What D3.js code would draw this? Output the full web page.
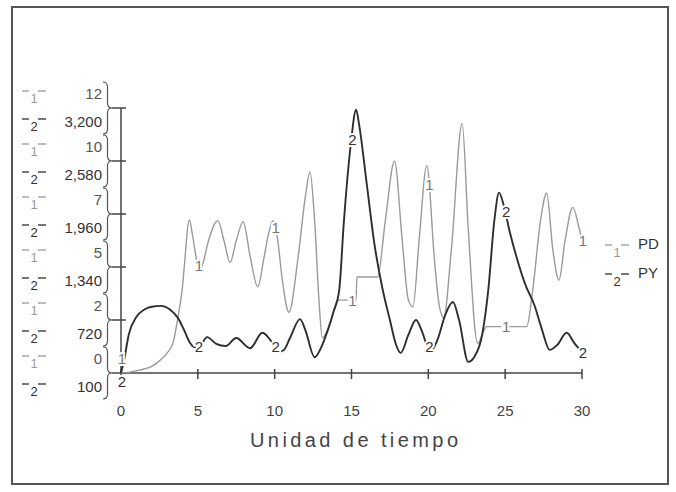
<!DOCTYPE html>
<html><head><meta charset="utf-8">
<script src="https://cdn.jsdelivr.net/npm/d3@7"></script>
<style>
html,body{margin:0;padding:0;background:#fff;}
svg{display:block;}
text{font-family:"Liberation Sans",Arial,sans-serif;}
</style></head>
<body>
<svg id="chart" width="676" height="492"></svg>
<script>
// ---- data ----
const pdTime  = [0,0.5,1,1.5,2,2.5,3,3.4,3.7,4.0,4.2,4.32,4.45,4.65,4.95,5.1,5.3,5.7,6.3,6.7,7.1,7.5,7.95,8.4,8.9,9.3,9.6,9.9,10.2,10.5,10.93,11.5,12.0,12.3,12.6,12.9,13.1,13.6,14.1,15.3,15.35,16.7,17.2,17.8,18.3,18.7,19.0,19.4,19.9,20.4,20.7,21.0,21.5,22.2,22.6,23.2,23.8,26.4,26.8,27.3,27.7,28.1,28.5,28.9,29.4,29.8,30];
const pdValue = [0,0.03,0.1,0.18,0.3,0.55,0.9,1.4,2.5,3.9,5.5,6.5,6.93,6.25,5.0,4.6,4.9,6.0,6.9,6.0,5.0,6.0,6.85,5.3,3.9,5.2,6.3,6.9,6.0,4.2,2.75,5.1,8.0,9.1,6.9,3.1,1.6,2.2,3.3,3.3,4.35,4.35,6.9,9.6,6.0,3.3,3.0,6.0,9.4,5.1,3.1,2.5,5.6,11.3,6.5,1.35,2.1,2.1,3.8,6.9,8.15,5.6,4.2,6.0,7.5,6.6,6.0];
const pyTime  = [0,0.2,0.5,1.0,1.5,2.0,2.6,3.2,3.7,4.1,4.5,4.8,5.2,5.6,6.2,6.8,7.5,8.4,9.2,9.8,10.2,10.6,11.0,11.65,12.0,12.6,13.1,13.5,13.8,14.2,14.5,14.95,15.3,15.5,16.0,16.5,17.0,17.5,17.9,18.2,18.7,19.2,19.6,19.9,20.2,20.6,21.1,21.6,22.0,22.6,23.0,23.5,23.9,24.3,24.6,24.9,25.3,25.8,26.3,26.9,27.4,27.9,28.4,29.0,29.5,30];
const pyValue = [100,250,545,755,840,875,885,840,745,605,450,400,430,520,440,415,510,390,570,465,345,370,510,730,600,285,430,625,800,1070,1860,2770,3180,3000,2300,1600,1100,720,430,335,545,720,580,430,370,490,780,930,720,230,290,545,1070,1890,2210,2065,1750,1420,1140,895,605,370,430,570,450,345];

const xTicks = [0,5,10,15,20,25,30];
const pdTickValues = [0,2.4,4.8,7.2,9.6,12];
const pdTickLabels = ["0","2","5","7","10","12"];
const pyTickValues = [100,720,1340,1960,2580,3200];
const labelTimes = [0,5,10,15,20,25,30];
const seriesNames = ["PD","PY"];
const xTitle = "Unidad de tiempo";

// ---- drawing ----
const svg = d3.select("#chart");
const C1 = "#9a9a9a", C2 = "#2e2e2e", AX = "#444";

svg.append("rect").attr("x",12).attr("y",7).attr("width",656).attr("height",477)
  .attr("fill","none").attr("stroke","#555").attr("stroke-width",2);

const x = d3.scaleLinear().domain([0,30]).range([121,582]);
const y1 = d3.scaleLinear().domain([0,12]).range([373,108]);
const y2 = d3.scaleLinear().domain([100,3200]).range([373,108]);

// x axis
const gx = svg.append("g");
gx.append("line").attr("x1",x(0)).attr("x2",x(30)).attr("y1",373).attr("y2",373)
  .attr("stroke",AX).attr("stroke-width",1.5);
gx.selectAll("line.t").data(xTicks).join("line").attr("class","t")
  .attr("x1",d=>x(d)).attr("x2",d=>x(d)).attr("y1",369).attr("y2",379)
  .attr("stroke",AX).attr("stroke-width",1.5);
gx.selectAll("text").data(xTicks).join("text")
  .attr("x",d=>x(d)).attr("y",410).attr("text-anchor","middle").attr("dominant-baseline","central")
  .attr("font-size",15).attr("fill","#444").text(d=>d);
svg.append("text").attr("x",354).attr("y",440).attr("text-anchor","middle")
  .attr("dominant-baseline","central").attr("font-size",20)
  .attr("font-family","DejaVu Sans").attr("textLength",208).attr("lengthAdjust","spacing")
  .attr("fill","#444").text(xTitle);

// y axis
svg.append("line").attr("x1",121).attr("x2",121).attr("y1",y1(12)).attr("y2",373)
  .attr("stroke",AX).attr("stroke-width",1.5);

function brace(xl, y0, y1b, w, yc){
  const xm = xl + w/2, r = 5;
  return `M${xl},${y0} Q${xm},${y0} ${xm},${y0+r} L${xm},${yc-r} Q${xm},${yc} ${xl+w},${yc}`+
         ` Q${xm},${yc} ${xm},${yc+r} L${xm},${y1b-r} Q${xm},${y1b} ${xl},${y1b}`;
}
function marker(g, x0, yc, num, col){
  g.append("line").attr("x1",x0).attr("x2",x0+7).attr("y1",yc-2).attr("y2",yc-2)
    .attr("stroke",col).attr("stroke-width",1.3);
  g.append("line").attr("x1",x0+16).attr("x2",x0+24).attr("y1",yc-2).attr("y2",yc-2)
    .attr("stroke",col).attr("stroke-width",1.3);
  g.append("text").attr("x",x0+12).attr("y",yc+5).attr("text-anchor","middle")
    .attr("dominant-baseline","central").attr("font-size",13).attr("fill",col).text(num);
}
const gy = svg.append("g");
pdTickValues.forEach((v,i)=>{
  const ty = y1(v);
  gy.append("path").attr("d",brace(103, ty-26, ty+26, 9, ty))
    .attr("fill","none").attr("stroke","#555").attr("stroke-width",1.2);
  gy.append("line").attr("x1",112).attr("x2",126).attr("y1",ty).attr("y2",ty)
    .attr("stroke",AX).attr("stroke-width",1.5);
  gy.append("text").attr("x",102).attr("y",ty-15).attr("text-anchor","end")
    .attr("dominant-baseline","central").attr("font-size",15).attr("fill","#555")
    .text(pdTickLabels[i]);
  gy.append("text").attr("x",102).attr("y",y2(pyTickValues[i])+13).attr("text-anchor","end")
    .attr("dominant-baseline","central").attr("font-size",15).attr("fill","#333")
    .text(d3.format(",")(pyTickValues[i]));
  marker(gy, 22, ty-15, "1", C1);
  marker(gy, 22, ty+13, "2", C2);
});

// series
const pd = pdTime.map((t,i)=>[t,pdValue[i]]);
const py = pyTime.map((t,i)=>[t,pyValue[i]]);
const line1 = d3.line().x(d=>x(d[0])).y(d=>y1(d[1])).curve(d3.curveMonotoneX);
const line2 = d3.line().x(d=>x(d[0])).y(d=>y2(d[1])).curve(d3.curveMonotoneX);
svg.append("path").attr("d",line1(pd)).attr("fill","none").attr("stroke",C1).attr("stroke-width",1.4);
svg.append("path").attr("d",line2(py)).attr("fill","none").attr("stroke",C2).attr("stroke-width",1.9);

function interp(ts, vs, t){
  const i = Math.max(1, d3.bisectLeft(ts, t));
  if (i >= ts.length) return vs[vs.length-1];
  const a = ts[i-1], b = ts[i];
  return vs[i-1] + (vs[i]-vs[i-1])*(t-a)/(b-a);
}
labelTimes.forEach(t=>{
  let ya = y1(interp(pdTime,pdValue,t)), yb = y2(interp(pyTime,pyValue,t));
  if (Math.abs(ya-yb) < 14){ ya -= 15; yb += 8; }
  [[ya,"1","#777"],[yb,"2","#333"]].forEach(([yy,s,tc])=>{
    svg.append("text").attr("x",x(t)+1).attr("y",yy).attr("text-anchor","middle")
      .attr("dominant-baseline","central").attr("font-size",15)
      .attr("fill",tc).attr("stroke","#fff").attr("stroke-width",4).attr("paint-order","stroke")
      .text(s);
  });
});

// legend
const lg = svg.append("g");
[[seriesNames[0],"1",C1,243],[seriesNames[1],"2",C2,272]].forEach(([nm,num,col,yc])=>{
  marker(lg, 605, yc+4, num, col);
  lg.append("text").attr("x",638).attr("y",yc).attr("dominant-baseline","central")
    .attr("font-size",15).attr("fill","#333").text(nm);
});
</script>
</body></html>
